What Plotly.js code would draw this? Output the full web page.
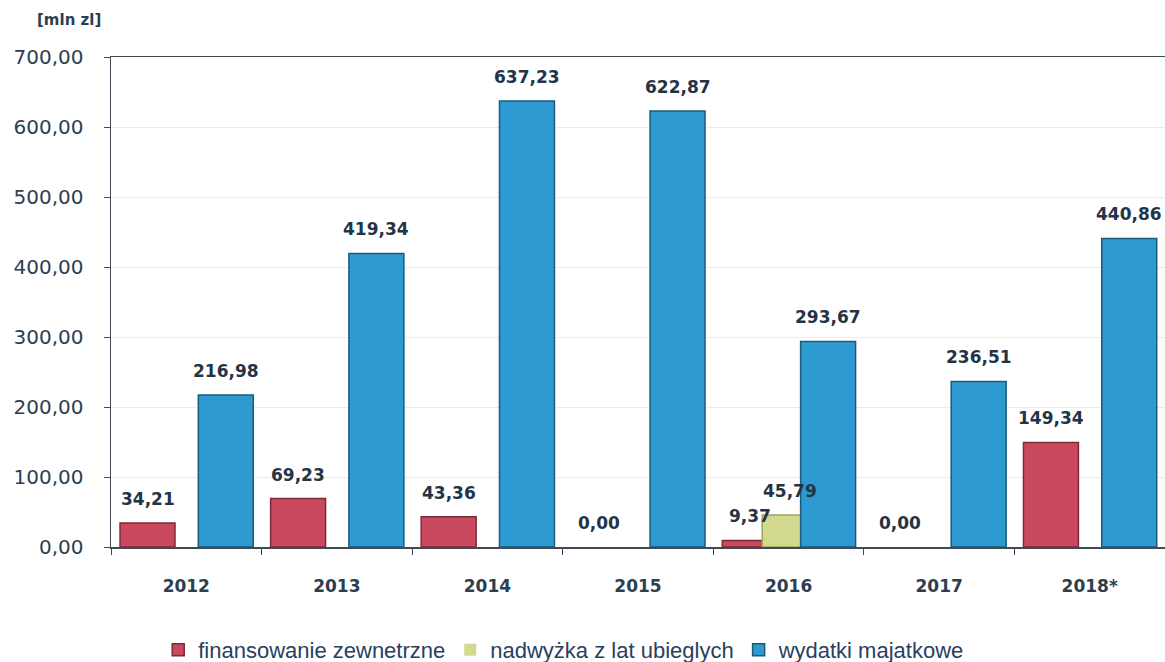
<!DOCTYPE html>
<html>
<head>
<meta charset="utf-8">
<script src="https://cdn.plot.ly/plotly-3.0.1.min.js"></script>
<style>html,body{margin:0;padding:0;background:#fff;}#chart{width:1165px;height:662px;}</style>
</head>
<body>
<div id="chart"></div>
<script>
const years = ["2012", "2013", "2014", "2015", "2016", "2017", "2018*"];
const finansowanieZewnetrzne = [34.21, 69.23, 43.36, 0.00, 9.37, 0.00, 149.34];
const nadwyzkaZLatUbieglych = [null, null, null, null, 45.79, null, null];
const wydatkiMajatkowe = [216.98, 419.34, 637.23, 622.87, 293.67, 236.51, 440.86];
const seriesNames = ["finansowanie zewnetrzne", "nadwyżka z lat ubieglych", "wydatki majatkowe"];
const yTicks = [0, 100, 200, 300, 400, 500, 600, 700];

const BAR_W = 0.365;
const series = [
  {name: seriesNames[0], values: finansowanieZewnetrzne, fill: "#c94a5f", edge: "#7d2a38", offset: -0.44},
  {name: seriesNames[1], values: nadwyzkaZLatUbieglych, fill: "#d3d98f", edge: "#a0a45e", offset: -0.175},
  {name: seriesNames[2], values: wydatkiMajatkowe, fill: "#2d9ad1", edge: "#1d5a7a", offset: 0.08}
];

const data = series.map(s => ({
  type: "bar", name: s.name, x: years, y: s.values,
  offset: s.offset, width: BAR_W,
  marker: {color: s.fill, line: {color: s.edge, width: s.values.map(v => (v > 0 ? 1.5 : 0))}},
  hoverinfo: "skip"
}));

function fmt(v) { return v.toFixed(2).replace(".", ","); }
const labelAnnotations = [];
series.forEach(s => {
  s.values.forEach((v, i) => {
    if (v === null) return;
    labelAnnotations.push({
      x: i + s.offset + BAR_W / 2, y: v, xref: "x", yref: "y",
      text: "<b>" + fmt(v) + "</b>", showarrow: false,
      xanchor: "center", yanchor: "bottom", yshift: 12,
      font: {family: "DejaVu Sans", size: 17, color: "#243447"}
    });
  });
});

const layout = {
  width: 1165, height: 662,
  margin: {l: 111, r: 0, t: 57, b: 115, autoexpand: false},
  paper_bgcolor: "#ffffff", plot_bgcolor: "#ffffff",
  barmode: "overlay",
  separators: ", ",
  showlegend: true,
  legend: {
    orientation: "h", x: 0.43, xanchor: "center", y: -0.21, yanchor: "middle",
    font: {family: "Liberation Sans", size: 22, color: "#2a4060"},
    itemwidth: 30, traceorder: "normal"
  },
  xaxis: {
    type: "category", range: [-0.5, 6.5],
    showline: true, linecolor: "#3f4a55", linewidth: 1.5, mirror: true,
    ticks: "outside", tickson: "boundaries", ticklen: 6, tickcolor: "#3f4a55",
    tickfont: {family: "DejaVu Sans", size: 17, color: "#2c3e50", weight: "bold"},
    ticklabelstandoff: 23,
    showgrid: false, zeroline: false, fixedrange: true
  },
  yaxis: {
    range: [0, 700], tickvals: yTicks, tickformat: ".2f",
    showline: true, linecolor: "#3f4a55", linewidth: 1.5, mirror: true,
    ticks: "outside", ticklen: 6, tickcolor: "#3f4a55",
    tickfont: {family: "DejaVu Sans", size: 20, color: "#2c3e50"},
    ticklabelstandoff: 16,
    showgrid: true, gridcolor: "#ebebeb", gridwidth: 1,
    zeroline: false, fixedrange: true
  },
  annotations: labelAnnotations.concat([{
    text: "<b>[mln zl]</b>", xref: "paper", yref: "paper",
    x: -0.04, y: 1.0755, xanchor: "center", yanchor: "middle",
    showarrow: false,
    font: {family: "DejaVu Sans", size: 15, color: "#2c3e50"}
  }])
};

Plotly.newPlot("chart", data, layout, {staticPlot: true, displayModeBar: false});
</script>
</body>
</html>
